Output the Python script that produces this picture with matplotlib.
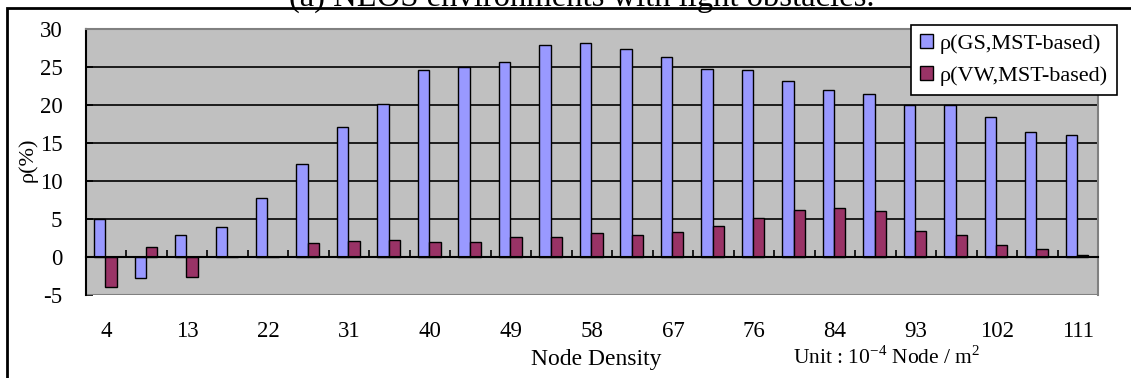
import numpy as np
import matplotlib
matplotlib.use('Agg')
from matplotlib import pyplot as plt
from matplotlib.patches import Rectangle

plt.rcParams['font.family'] = ['Liberation Serif', 'DejaVu Serif']
plt.rcParams['mathtext.fontset'] = 'custom'
plt.rcParams['mathtext.rm'] = 'Liberation Serif'
plt.rcParams['axes.unicode_minus'] = False

# 标注的节点密度（每隔一根柱子标一次）
density_labels = ['4', '13', '22', '31', '40', '49', '58', '67', '76', '84', '93', '102', '111']

# rho(GS, MST-based)
gs = [5.0, -2.7, 2.9, 3.9, 7.7, 12.2, 17.1, 20.1, 24.6, 25.0, 25.6, 27.9, 28.2,
      27.4, 26.3, 24.8, 24.6, 23.2, 22.0, 21.4, 20.0, 20.0, 18.4, 16.5, 16.0]
# rho(VW, MST-based)
vw = [-3.9, 1.3, -2.6, 0.0, 0.0, 1.8, 2.1, 2.2, 2.0, 2.0, 2.6, 2.6, 3.1,
      2.9, 3.3, 4.1, 5.1, 6.2, 6.4, 6.0, 3.4, 2.9, 1.6, 1.05, 0.2]

fig = plt.figure(figsize=(11.31, 3.78), dpi=100)
ax = fig.add_axes([86 / 1131, 1 - 295 / 378, 1012 / 1131, 266 / 378])
ax.set_facecolor('#C0C0C0')

x = np.arange(len(gs))
w = 0.28
ax.bar(x - 0.16, gs, w, color='#9999FF', edgecolor='black', linewidth=1,
       label=u'\u03c1(GS,MST-based)', zorder=3)
ax.bar(x + 0.12, vw, w, color='#993366', edgecolor='black', linewidth=1,
       label=u'\u03c1(VW,MST-based)', zorder=3)

ax.set_xlim(-0.5, len(gs) - 0.5)
ax.set_ylim(-5, 30)

# 网格线
for g in [5, 10, 15, 20, 25]:
    ax.axhline(g, color='black', lw=1.2, zorder=1)
ax.axhline(-5, color='#808080', lw=1.5, zorder=2)

ax.spines['top'].set_color('#808080')
ax.spines['right'].set_color('#808080')
ax.spines['top'].set_linewidth(1.5)
ax.spines['right'].set_linewidth(1.5)
ax.spines['left'].set_linewidth(1.5)
ax.spines['bottom'].set_position(('data', 0))
ax.spines['bottom'].set_linewidth(1.5)
ax.spines['bottom'].set_zorder(4)

ax.set_yticks(np.arange(-5, 31, 5))
ax.tick_params(axis='y', direction='in', length=5, width=1.2, pad=17, labelsize=16.5)

# x 轴：刻度线在类别边界，标签在类别中心
ax.set_xticks(np.arange(len(gs) - 1) + 0.5)
ax.set_xticklabels([])
ax.tick_params(axis='x', which='major', direction='in', length=5, width=1.2)
ax.set_xticks(np.arange(0, len(gs), 2), minor=True)
ax.set_xticklabels(density_labels, minor=True)
ax.tick_params(axis='x', which='minor', length=0, pad=46, labelsize=16.5)

fig.text(28 / 1131, 1 - 160 / 378, u'\u03c1(%)', rotation=90, ha='center', va='center', fontsize=16)
fig.text(596 / 1131, 1 - 360 / 378, 'Node Density', ha='center', va='center', fontsize=17)
fig.text(887 / 1131, 1 - 358 / 378, r'Unit : 10$^{-4}$ Node / m$^{2}$', ha='center', va='center', fontsize=15.5)

# 被裁掉一半的标题
fig.text(582 / 1131, 1 - 6 / 378, '(a) NLOS environments with light obstacles.',
         ha='center', va='baseline', fontsize=23.5)

leg = fig.legend(loc='upper right', bbox_to_anchor=(1117 / 1131, 1 - 25 / 378),
                 bbox_transform=fig.transFigure, borderaxespad=0, fontsize=16,
                 fancybox=False, framealpha=1, edgecolor='black',
                 handlelength=0.6, handleheight=0.6, handletextpad=0.3,
                 labelspacing=0.55, borderpad=0.4)
leg.get_frame().set_linewidth(1.2)

# 外框
fig.patches.append(Rectangle((7 / 1131, -0.2), 1.2, 1.2 - 7.5 / 378,
                             transform=fig.transFigure, fill=False,
                             edgecolor='black', linewidth=2))

fig.savefig('out.png', dpi=100)
